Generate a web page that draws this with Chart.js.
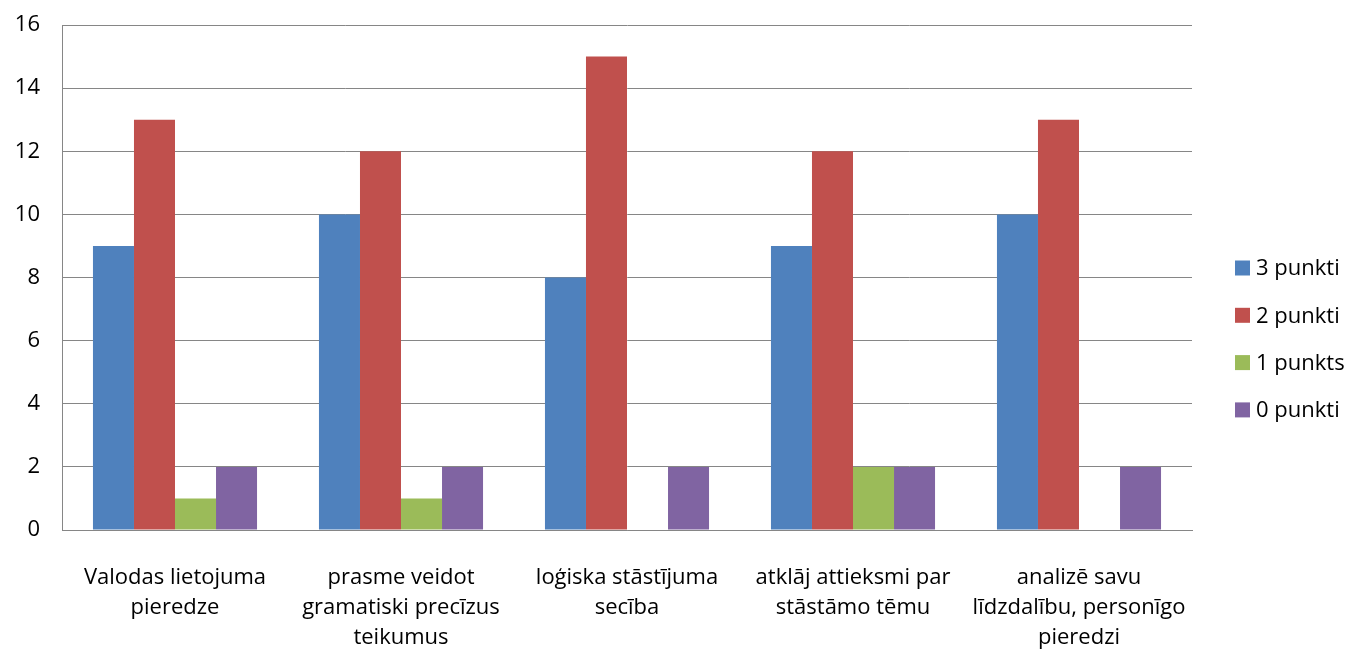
<!DOCTYPE html>
<html>
<head>
<meta charset="utf-8">
<script src="https://cdn.jsdelivr.net/npm/chart.js@4"></script>
<style>
html,body{margin:0;padding:0;background:#fff;}
#wrap{width:1350px;height:651px;}
</style>
</head>
<body>
<div id="wrap"><canvas id="c" width="1350" height="651"></canvas></div>
<script>
const categories = [
  ["Valodas lietojuma", "pieredze"],
  ["prasme veidot", "gramatiski precīzus", "teikumus"],
  ["loģiska stāstījuma", "secība"],
  ["atklāj attieksmi par", "stāstāmo tēmu"],
  ["analizē savu", "līdzdalību, personīgo", "pieredzi"]
];
const seriesNames = ["3 punkti", "2 punkti", "1 punkts", "0 punkti"];
const points3 = [9, 10, 8, 9, 10];
const points2 = [13, 12, 15, 12, 13];
const points1 = [1, 1, 0, 2, 0];
const points0 = [2, 2, 2, 2, 2];
const colors = ["#4F81BD", "#C0504D", "#9BBB59", "#8064A2"];

const FONT = "'Open Sans', sans-serif";
const FSIZE = 22;
const seriesValues = [points3, points2, points1, points0];

const legendPlugin = {
  id: 'customLegend',
  afterDraw(chart) {
    const ctx = chart.ctx;
    ctx.save();
    ctx.font = FSIZE + "px " + FONT;
    ctx.textBaseline = 'middle';
    ctx.textAlign = 'left';
    chart.data.datasets.forEach((ds, i) => {
      const yc = 268 + i * 47.3;
      ctx.fillStyle = ds.backgroundColor;
      ctx.fillRect(1235, yc - 7.5, 15, 15);
      ctx.fillStyle = '#000';
      ctx.fillText(ds.label, 1256, yc + 1);
    });
    ctx.restore();
  }
};

new Chart(document.getElementById('c'), {
  type: 'bar',
  data: {
    labels: categories,
    datasets: seriesNames.map((n, i) => ({
      label: n,
      data: seriesValues[i],
      backgroundColor: colors[i],
      borderWidth: 0,
      categoryPercentage: 0.726,
      barPercentage: 1.0
    }))
  },
  options: {
    responsive: false,
    animation: false,
    devicePixelRatio: 1,
    layout: { padding: { top: 25, right: 158, left: 0, bottom: 0 } },
    plugins: {
      legend: { display: false },
      tooltip: { enabled: false }
    },
    scales: {
      x: {
        grid: { display: false, drawTicks: false },
        border: { display: true, color: '#868686', width: 1 },
        ticks: {
          color: '#000',
          padding: 33,
          maxRotation: 0,
          autoSkip: false,
          font: { family: FONT, size: FSIZE, lineHeight: 30 / 22 }
        },
        afterFit(scale) { scale.height = 121; }
      },
      y: {
        min: 0,
        max: 16,
        ticks: {
          stepSize: 2,
          color: '#000',
          padding: 22,
          font: { family: FONT, size: FSIZE }
        },
        grid: { color: '#868686', lineWidth: 1, drawTicks: false },
        border: { display: true, color: '#868686', width: 1 },
        afterFit(scale) { scale.width = 62; scale.paddingTop = 0; scale.paddingBottom = 0; }
      }
    }
  },
  plugins: [legendPlugin]
});
</script>
</body>
</html>
